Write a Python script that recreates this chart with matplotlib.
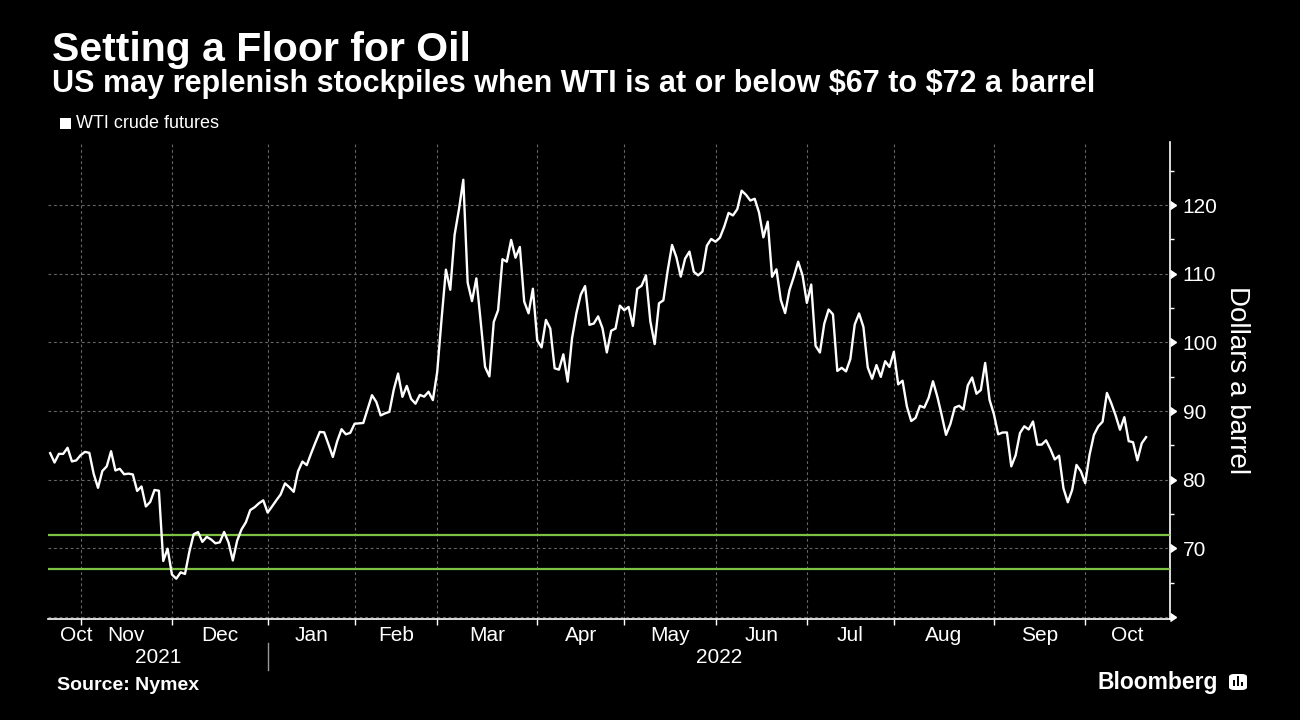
import matplotlib
matplotlib.use("Agg")
import matplotlib.pyplot as plt
import matplotlib.transforms as mtransforms
from matplotlib.patches import Rectangle, FancyBboxPatch
import numpy as np
import pandas as pd

# Dias de negociacion NYMEX (20 oct 2021 - 20 oct 2022)
feriados = ["2021-11-25", "2021-12-24", "2022-01-17", "2022-02-21", "2022-04-15",
            "2022-05-30", "2022-06-20", "2022-07-04", "2022-09-05"]
fechas = pd.bdate_range("2021-10-20", "2022-10-20", freq="C", holidays=feriados)

# Cierres del WTI, dolares por barril, un valor por dia
wti_oct21 = [83.87, 82.50, 83.76, 83.76, 84.65, 82.66, 82.81, 83.57]
wti_nov21 = [84.05, 83.91, 80.86, 78.81, 81.27, 81.93, 84.15, 81.34, 81.59, 80.79, 80.88,
             80.76, 78.36, 79.01, 76.10, 76.75, 78.50, 78.39, 68.15, 69.95, 66.18]
wti_dic21 = [65.57, 66.50, 66.26, 69.49, 72.05, 72.36, 70.94, 71.67, 71.29, 70.73, 70.87,
             72.38, 70.86, 68.23, 71.12, 72.76, 73.79, 75.57, 75.98, 76.56, 76.99, 75.21]
wti_ene22 = [76.08, 76.99, 77.85, 79.46, 78.90, 78.23, 81.22, 82.64, 82.12, 83.82, 85.43,
             86.96, 86.90, 85.14, 83.31, 85.60, 87.35, 86.61, 86.82, 88.15]
wti_feb22 = [88.20, 88.26, 90.27, 92.31, 91.32, 89.36, 89.66, 89.88, 93.10, 95.46, 92.07,
             93.66, 91.76, 91.07, 92.35, 92.10, 92.81, 91.59, 95.72]
wti_mar22 = [103.41, 110.60, 107.67, 115.68, 119.40, 123.70, 108.70, 106.02, 109.33, 103.01,
             96.44, 95.04, 102.98, 104.70, 112.12, 111.76, 114.93, 112.34, 113.90, 105.96,
             104.24, 107.82, 100.28]
wti_abr22 = [99.27, 103.28, 102.02, 96.23, 96.03, 98.26, 94.29, 100.60, 104.25, 106.95,
             108.21, 102.56, 102.75, 103.79, 102.07, 98.54, 101.70, 102.02, 105.36, 104.69]
wti_may22 = [105.17, 102.41, 107.81, 108.26, 109.77, 103.09, 99.76, 105.71, 106.13, 110.49,
             114.20, 112.40, 109.59, 112.21, 113.23, 110.29, 109.77, 110.33, 114.09, 115.07,
             114.67]
wti_jun22 = [115.26, 116.87, 118.87, 118.50, 119.41, 122.11, 121.51, 120.67, 120.93, 118.93,
             115.31, 117.59, 109.56, 110.65, 106.19, 104.27, 107.62, 109.57, 111.76, 109.78,
             105.76]
wti_jul22 = [108.43, 99.50, 98.53, 102.73, 104.79, 104.09, 95.84, 96.30, 95.78, 97.59,
             102.60, 104.22, 102.26, 96.35, 94.70, 96.70, 94.98, 97.26, 96.42, 98.62]
wti_ago22 = [93.89, 94.42, 90.66, 88.54, 89.01, 90.76, 90.50, 91.93, 94.34, 92.09, 89.41,
             86.53, 88.11, 90.50, 90.77, 90.23, 93.74, 94.89, 92.52, 93.06, 97.01, 91.64, 89.55]
wti_sep22 = [86.61, 86.87, 86.88, 81.94, 83.54, 86.79, 87.78, 87.31, 88.48, 85.10, 85.11,
             85.73, 84.45, 82.94, 83.49, 78.74, 76.71, 78.50, 82.15, 81.23, 79.49]
wti_oct22 = [83.63, 86.52, 87.76, 88.45, 92.64, 91.13, 89.35, 87.27, 89.11, 85.61, 85.46,
             82.82, 85.30, 86.20]

wti = np.array(wti_oct21 + wti_nov21 + wti_dic21 + wti_ene22 + wti_feb22 + wti_mar22
               + wti_abr22 + wti_may22 + wti_jun22 + wti_jul22 + wti_ago22 + wti_sep22
               + wti_oct22)

# Rango en que EE.UU. podria recomprar
piso_bajo = 67
piso_alto = 72

ticks_y = [60, 70, 80, 90, 100, 110, 120]
etiquetas_y = ["", "70", "80", "90", "100", "110", "120"]
ticks_y_menores = [65, 75, 85, 95, 105, 115, 125]

verde = "#7DC242"
gris = "#666666"

plt.rcParams['font.family'] = ['Liberation Sans', 'DejaVu Sans']

fig = plt.figure(figsize=(13, 7.2), dpi=100, facecolor='black')
ax = fig.add_axes([48 / 1300, 101 / 720, 1122 / 1300, 477 / 720], facecolor='black')

x = np.arange(len(fechas))
ax.plot(x, wti, color='white', lw=1.7, zorder=4)
ax.axhline(piso_alto, color=verde, lw=1.6, zorder=3)
ax.axhline(piso_bajo, color=verde, lw=1.6, zorder=3)

ax.set_xlim(-0.5, 257.5)
ax.set_ylim(59.7, 129.2)

# Eje x: rejilla al cierre de cada mes, nombre del mes en el centro
fin_mes = np.where(np.diff(fechas.month) != 0)[0]
bordes = np.concatenate([[-0.5], fin_mes, [257.5]])
centros = (bordes[:-1] + bordes[1:]) / 2
centros[0] = fin_mes[0] - 1.1
nombres = [fechas[i].strftime('%b') for i in np.concatenate([[0], fin_mes + 1])]

ax.set_xticks(centros)
ax.set_xticklabels(nombres)
ax.set_xticks(fin_mes, minor=True)
ax.tick_params(axis='x', which='major', length=0, pad=5, labelcolor='white', labelsize=15)
ax.tick_params(axis='x', which='minor', length=4, width=1, color='white')
ax.grid(which='minor', axis='x', color=gris, lw=0.8, ls=(0, (2.5, 2.5)))

# Eje y a la derecha
ax.yaxis.tick_right()
ax.set_yticks(ticks_y)
ax.set_yticklabels(etiquetas_y)
ax.set_yticks(ticks_y_menores, minor=True)
ax.tick_params(axis='y', which='major', length=0, pad=9, labelcolor='white', labelsize=15)
ax.tick_params(axis='y', which='minor', length=3, width=1, color='white')
ax.grid(which='major', axis='y', color=gris, lw=0.8, ls=(0, (2.5, 2.5)))
ax.plot(np.ones(len(ticks_y)), ticks_y, transform=ax.get_yaxis_transform(), ls='none',
        marker=9, ms=6, color='white', clip_on=False, zorder=5)

for lado in ['top', 'left']:
    ax.spines[lado].set_visible(False)
for lado in ['right', 'bottom']:
    ax.spines[lado].set_color('white')
    ax.spines[lado].set_linewidth(1.2)

# Anios debajo de los meses
trans = mtransforms.blended_transform_factory(ax.transData, ax.transAxes)
fin_anio = np.where(np.diff(fechas.year) != 0)[0][0]
ax.text((-0.5 + fin_anio) / 2, -0.08, str(fechas[0].year), transform=trans,
        ha='center', va='center', color='white', fontsize=15)
ax.text((fin_anio + 257.5) / 2, -0.08, str(fechas[-1].year), transform=trans,
        ha='center', va='center', color='white', fontsize=15)
ax.plot([fin_anio, fin_anio], [-0.05, -0.107], transform=trans, color='#999999',
        lw=1, clip_on=False)

# Titulos
fig.text(52 / 1300, 1 - 61 / 720, 'Setting a Floor for Oil', color='white',
         fontsize=29.5, fontweight='bold', va='baseline')
fig.text(52 / 1300, 1 - 92 / 720,
         r'US may replenish stockpiles when WTI is at or below \$67 to \$72 a barrel',
         color='white', fontsize=22, fontweight='bold', va='baseline')

# Leyenda
fig.patches.append(Rectangle((60 / 1300, 1 - 129 / 720), 11 / 1300, 11 / 720,
                             transform=fig.transFigure, facecolor='white', edgecolor='none'))
fig.text(76 / 1300, 1 - 124 / 720, 'WTI crude futures', color='white', fontsize=13,
         va='center')

fig.text(1237 / 1300, 1 - 380 / 720, 'Dollars a barrel', color='white', fontsize=20,
         rotation=270, ha='center', va='center')

fig.text(57 / 1300, 1 - 685 / 720, 'Source: Nymex', color='white', fontsize=14,
         fontweight='bold', va='center')
fig.text(1218 / 1300, 1 - 683 / 720, 'Bloomberg', color='white', fontsize=16.5,
         fontweight='bold', ha='right', va='center')

# Icono de Bloomberg
fig.patches.append(FancyBboxPatch((1229 / 1300, 1 - 690 / 720), 18 / 1300, 16 / 720,
                                  boxstyle='round,pad=0,rounding_size=0.004',
                                  transform=fig.transFigure, facecolor='white',
                                  edgecolor='none'))
for bx, alto in zip([1233, 1237, 1241], [6, 10, 4]):
    fig.patches.append(Rectangle((bx / 1300, 1 - 686 / 720), 2 / 1300, alto / 720,
                                 transform=fig.transFigure, facecolor='black',
                                 edgecolor='none'))

fig.savefig('out.png', dpi=100, facecolor='black')
